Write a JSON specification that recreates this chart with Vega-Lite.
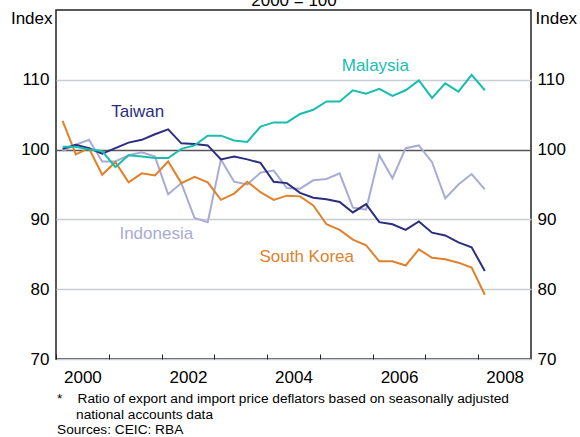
{
  "$schema": "https://vega.github.io/schema/vega-lite/v6.json",
  "width": 475,
  "height": 349,
  "autosize": {"type": "none"},
  "padding": {"left": 56, "top": 10, "right": 49, "bottom": 78},
  "config": {
    "font": "Liberation Sans",
    "view": {"stroke": "#222222", "strokeWidth": 1.5},
    "axis": {"labelColor": "#000000", "titleColor": "#000000", "titleFontWeight": "normal", "labelFontSize": 17, "titleFontSize": 17}
  },
  "title": {
    "text": ["*\u00a0\u00a0\u00a0\u00a0Ratio of export and import price deflators based on seasonally adjusted", "\u200B\u00a0\u00a0\u00a0\u00a0\u00a0national accounts data"],
    "subtitle": "Sources: CEIC: RBA",
    "orient": "bottom",
    "anchor": "start",
    "frame": "group",
    "fontSize": 13.7,
    "fontWeight": "normal",
    "color": "#000000",
    "lineHeight": 16,
    "subtitleFontSize": 13.7,
    "subtitleColor": "#000000",
    "subtitleLineHeight": 15,
    "subtitlePadding": 1,
    "offset": 7,
    "dx": 1
  },
  "datasets": {
    "tot": [
      {"t": 2000.125, "Malaysia": 100.4, "Taiwan": 100.1, "Indonesia": 99.8, "South Korea": 104.1},
      {"t": 2000.375, "Malaysia": 100.4, "Taiwan": 100.7, "Indonesia": 100.7, "South Korea": 99.3},
      {"t": 2000.625, "Malaysia": 100.0, "Taiwan": 100.2, "Indonesia": 101.4, "South Korea": 100.2},
      {"t": 2000.875, "Malaysia": 99.8, "Taiwan": 99.4, "Indonesia": 98.3, "South Korea": 96.4},
      {"t": 2001.125, "Malaysia": 97.5, "Taiwan": 100.2, "Indonesia": 98.3, "South Korea": 98.2},
      {"t": 2001.375, "Malaysia": 99.2, "Taiwan": 101.0, "Indonesia": 99.2, "South Korea": 95.3},
      {"t": 2001.625, "Malaysia": 99.0, "Taiwan": 101.4, "Indonesia": 99.6, "South Korea": 96.6},
      {"t": 2001.875, "Malaysia": 98.8, "Taiwan": 102.2, "Indonesia": 99.0, "South Korea": 96.3},
      {"t": 2002.125, "Malaysia": 98.8, "Taiwan": 102.9, "Indonesia": 93.6, "South Korea": 98.3},
      {"t": 2002.375, "Malaysia": 100.1, "Taiwan": 100.9, "Indonesia": 95.2, "South Korea": 95.2},
      {"t": 2002.625, "Malaysia": 100.6, "Taiwan": 100.8, "Indonesia": 90.2, "South Korea": 96.1},
      {"t": 2002.875, "Malaysia": 102.0, "Taiwan": 100.6, "Indonesia": 89.6, "South Korea": 95.3},
      {"t": 2003.125, "Malaysia": 102.0, "Taiwan": 98.6, "Indonesia": 98.6, "South Korea": 92.8},
      {"t": 2003.375, "Malaysia": 101.3, "Taiwan": 99.0, "Indonesia": 95.4, "South Korea": 93.7},
      {"t": 2003.625, "Malaysia": 101.1, "Taiwan": 98.6, "Indonesia": 95.0, "South Korea": 95.4},
      {"t": 2003.875, "Malaysia": 103.3, "Taiwan": 98.1, "Indonesia": 96.7, "South Korea": 93.9},
      {"t": 2004.125, "Malaysia": 103.9, "Taiwan": 95.4, "Indonesia": 97.0, "South Korea": 92.8},
      {"t": 2004.375, "Malaysia": 103.9, "Taiwan": 95.2, "Indonesia": 94.5, "South Korea": 93.4},
      {"t": 2004.625, "Malaysia": 105.1, "Taiwan": 93.8, "Indonesia": 94.4, "South Korea": 93.3},
      {"t": 2004.875, "Malaysia": 105.7, "Taiwan": 93.1, "Indonesia": 95.6, "South Korea": 92.0},
      {"t": 2005.125, "Malaysia": 106.9, "Taiwan": 92.9, "Indonesia": 95.8, "South Korea": 89.3},
      {"t": 2005.375, "Malaysia": 106.9, "Taiwan": 92.5, "Indonesia": 96.6, "South Korea": 88.5},
      {"t": 2005.625, "Malaysia": 108.5, "Taiwan": 91.0, "Indonesia": 91.7, "South Korea": 87.1},
      {"t": 2005.875, "Malaysia": 108.0, "Taiwan": 92.2, "Indonesia": 91.4, "South Korea": 86.3},
      {"t": 2006.125, "Malaysia": 108.7, "Taiwan": 89.6, "Indonesia": 99.2, "South Korea": 84.0},
      {"t": 2006.375, "Malaysia": 107.7, "Taiwan": 89.3, "Indonesia": 95.9, "South Korea": 84.0},
      {"t": 2006.625, "Malaysia": 108.5, "Taiwan": 88.5, "Indonesia": 100.2, "South Korea": 83.4},
      {"t": 2006.875, "Malaysia": 109.9, "Taiwan": 89.7, "Indonesia": 100.6, "South Korea": 85.7},
      {"t": 2007.125, "Malaysia": 107.4, "Taiwan": 88.1, "Indonesia": 98.2, "South Korea": 84.5},
      {"t": 2007.375, "Malaysia": 109.5, "Taiwan": 87.7, "Indonesia": 93.0, "South Korea": 84.3},
      {"t": 2007.625, "Malaysia": 108.3, "Taiwan": 86.7, "Indonesia": 95.0, "South Korea": 83.8},
      {"t": 2007.875, "Malaysia": 110.7, "Taiwan": 86.0, "Indonesia": 96.5, "South Korea": 83.1},
      {"t": 2008.125, "Malaysia": 108.5, "Taiwan": 82.6, "Indonesia": 94.3, "South Korea": 79.2}
    ],
    "labels": [
      {"x": 2006.05, "y": 112.0, "country": "Malaysia"},
      {"x": 2001.55, "y": 105.4, "country": "Taiwan"},
      {"x": 2001.9, "y": 87.9, "country": "Indonesia"},
      {"x": 2004.75, "y": 84.6, "country": "South Korea"}
    ]
  },
  "resolve": {"axis": {"x": "independent", "y": "independent"}},
  "layer": [
    {
      "data": {"name": "tot"},
      "transform": [{"fold": ["Indonesia", "South Korea", "Taiwan", "Malaysia"], "as": ["country", "value"]}],
      "mark": {"type": "line", "strokeWidth": 2},
      "encoding": {
        "x": {
          "field": "t", "type": "quantitative",
          "scale": {"domain": [2000, 2009], "nice": false, "zero": false},
          "axis": {
            "orient": "bottom", "title": null, "values": [2000, 2001, 2002, 2003, 2004, 2005, 2006, 2007, 2008],
            "format": "d", "labelExpr": "datum.value % 2 === 0 ? datum.label : ''",
            "labelOffset": 26.4, "labelFlush": false, "labelOverlap": false, "labelBound": false,
            "grid": false, "domain": false, "ticks": true, "tickSize": -5, "tickColor": "#222222", "tickWidth": 1,
            "labelPadding": 15
          }
        },
        "y": {
          "field": "value", "type": "quantitative",
          "scale": {"domain": [70, 120], "nice": false, "zero": false},
          "axis": {
            "orient": "left", "values": [70, 80, 90, 100, 110], "ticks": false, "domain": false,
            "grid": true,
            "gridColor": {"condition": {"test": "datum.value === 100", "value": "#555555"}, "value": "#C8CCD4"},
            "gridWidth": 1.5,
            "labelPadding": 7,
            "title": "Index", "titleAngle": 0, "titleAlign": "right", "titleBaseline": "alphabetic", "titleX": -4, "titleY": 13
          }
        },
        "color": {
          "field": "country", "type": "nominal",
          "scale": {"domain": ["Malaysia", "Taiwan", "Indonesia", "South Korea"], "range": ["#17BEB0", "#2B2E7E", "#A8ABD6", "#E0812C"]},
          "legend": null
        }
      }
    },
    {
      "data": {"name": "labels"},
      "mark": {"type": "text", "fontSize": 17, "align": "center", "baseline": "middle"},
      "encoding": {
        "x": {
          "field": "x", "type": "quantitative",
          "axis": {"orient": "top", "labels": false, "ticks": false, "domain": false, "grid": false,
                   "title": "2000 = 100", "titleBaseline": "alphabetic", "titleY": -5}
        },
        "y": {
          "field": "y", "type": "quantitative",
          "axis": {
            "orient": "right", "values": [70, 80, 90, 100, 110], "ticks": false, "domain": false, "grid": false,
            "labelPadding": 6,
            "title": "Index", "titleAngle": 0, "titleAlign": "left", "titleBaseline": "alphabetic", "titleX": 4, "titleY": 13
          }
        },
        "text": {"field": "country"},
        "color": {"field": "country", "type": "nominal", "legend": null}
      }
    }
  ]
}
